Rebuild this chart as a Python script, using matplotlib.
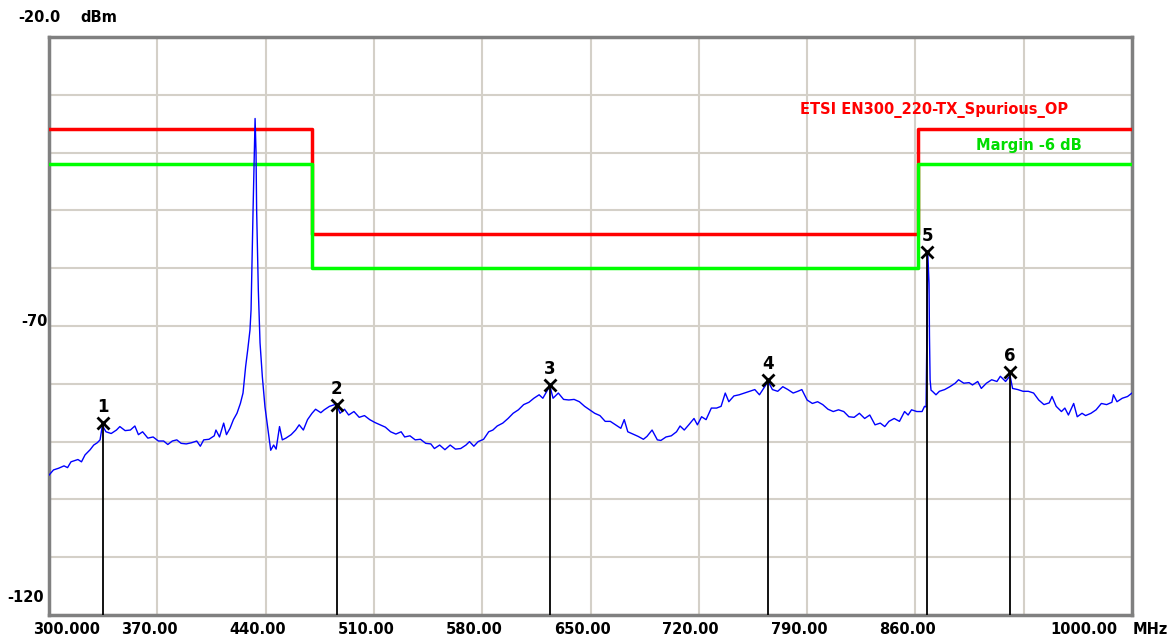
import matplotlib
matplotlib.use("Agg")
import matplotlib.pyplot as plt
import numpy as np

# trace (MHz, dBm)
freq = [300.0, 302.9, 306.3, 309.7, 312.0, 314.2, 318.7, 321.0, 323.3, 326.6,
        328.9, 331.2, 333.0, 334.5, 336.8, 340.2, 343.6, 345.8, 349.2, 352.6,
        355.5, 357.8, 360.5, 363.9, 367.3, 370.7, 374.1, 376.8, 379.7, 382.6,
        385.4, 388.7, 392.1, 395.5, 397.8, 400.0, 403.4, 406.8, 407.9, 410.2,
        412.9, 414.7, 417.0, 419.2, 421.5, 423.7, 425.4, 427.1, 428.5, 429.9,
        430.6, 431.9, 433.2, 433.8, 434.2, 435.3, 436.4, 437.9, 439.6, 441.8,
        443.3, 445.2, 446.8, 449.0, 450.8, 453.1, 456.5, 459.4, 461.7, 464.4,
        467.1, 470.0, 472.3, 475.7, 477.9, 481.3, 484.7, 486.1, 488.1, 491.0,
        493.7, 497.1, 500.5, 503.9, 507.3, 510.7, 514.1, 517.4, 520.8, 524.2,
        527.6, 529.9, 533.3, 536.7, 540.1, 543.5, 546.8, 549.1, 552.5, 555.9,
        559.3, 562.7, 566.1, 569.5, 571.8, 574.6, 577.4, 580.9, 584.2, 586.9,
        589.7, 593.3, 596.7, 600.0, 603.4, 606.8, 610.2, 613.4, 616.8, 619.2,
        622.4, 623.8, 625.8, 629.2, 632.6, 636.0, 639.4, 642.8, 646.2, 649.5,
        652.7, 656.1, 659.5, 662.8, 666.2, 669.6, 671.8, 674.1, 677.5, 680.8,
        684.2, 686.5, 689.8, 693.2, 695.5, 698.8, 702.2, 705.6, 707.9, 710.6,
        713.5, 716.9, 719.1, 721.8, 724.7, 728.1, 731.5, 734.4, 737.1, 739.4,
        742.7, 746.1, 749.5, 752.9, 756.2, 759.2, 761.9, 764.8, 767.6, 771.0,
        774.3, 777.6, 781.0, 784.0, 786.6, 790.0, 793.4, 796.8, 800.1, 803.5,
        806.9, 810.3, 813.7, 817.0, 820.4, 823.8, 827.2, 830.5, 833.9, 837.3,
        840.2, 842.9, 846.3, 849.7, 853.0, 855.3, 857.5, 860.9, 864.3, 865.9,
        866.9, 867.4, 868.0, 868.8, 869.1, 869.5, 870.1, 871.0, 873.3, 875.5,
        878.9, 882.3, 885.7, 887.9, 891.3, 894.7, 896.9, 900.3, 902.6, 905.9,
        909.3, 912.7, 914.9, 918.3, 921.2, 922.8, 926.2, 929.6, 933.0, 936.4,
        939.7, 943.1, 946.5, 948.3, 951.0, 954.4, 956.6, 958.9, 962.3, 964.6,
        967.7, 970.0, 973.5, 976.8, 980.2, 983.6, 987.0, 988.0, 990.3, 993.7,
        997.1, 1000.0]
level = [-95.8, -94.9, -94.6, -94.2, -94.5, -93.5, -93.1, -93.5, -92.3, -91.4,
         -90.6, -90.2, -89.7, -87.2, -88.3, -88.6, -88.0, -87.4, -88.1, -88.0,
         -87.3, -88.8, -88.3, -89.4, -89.2, -89.9, -89.9, -90.5, -89.9, -89.7,
         -90.3, -90.4, -90.2, -89.9, -90.8, -89.7, -89.6, -89.0, -88.0, -89.2,
         -86.8, -88.8, -87.7, -86.2, -85.1, -83.4, -81.6, -77.0, -74.0, -70.7,
         -67.2, -49.9, -34.1, -39.8, -49.9, -63.8, -72.9, -78.8, -84.0, -88.5,
         -91.5, -90.6, -91.3, -87.4, -89.7, -89.4, -88.8, -88.0, -87.1, -88.0,
         -86.2, -85.1, -84.4, -85.0, -84.5, -83.9, -83.6, -83.7, -85.1, -84.4,
         -85.4, -84.8, -85.8, -85.5, -86.2, -86.7, -87.1, -87.5, -88.3, -88.7,
         -88.3, -89.2, -89.0, -89.7, -89.6, -90.3, -90.4, -91.2, -90.6, -91.4,
         -90.6, -91.3, -91.2, -90.6, -90.0, -90.8, -90.0, -89.6, -88.3, -88.0,
         -87.3, -86.8, -86.0, -85.1, -84.5, -83.6, -83.2, -82.5, -81.9, -82.5,
         -81.0, -80.4, -82.5, -81.6, -82.7, -82.8, -82.7, -83.1, -83.9, -84.5,
         -85.1, -85.5, -86.5, -86.5, -87.1, -87.7, -86.2, -88.3, -88.7, -89.1,
         -89.6, -89.1, -88.0, -89.7, -89.8, -89.2, -89.0, -88.3, -87.3, -88.0,
         -87.1, -86.0, -87.1, -85.7, -86.2, -84.2, -84.2, -83.9, -81.6, -83.1,
         -82.1, -81.9, -81.6, -81.3, -81.0, -81.9, -80.8, -79.6, -81.0, -81.3,
         -80.5, -81.0, -81.6, -81.3, -81.0, -82.8, -83.4, -83.1, -83.6, -84.4,
         -84.8, -84.5, -84.8, -85.7, -85.8, -85.1, -86.0, -85.4, -87.1, -86.8,
         -87.4, -86.5, -86.0, -86.5, -84.8, -85.4, -84.5, -84.8, -84.8, -83.9,
         -84.0, -71.2, -57.3, -62.6, -71.8, -79.3, -81.1, -81.3, -81.9, -81.3,
         -81.0, -80.5, -79.9, -79.3, -79.9, -79.8, -80.2, -79.6, -80.8, -79.9,
         -79.3, -79.6, -78.7, -79.6, -78.6, -80.8, -81.0, -81.3, -81.3, -81.6,
         -82.8, -83.6, -83.3, -82.2, -83.9, -84.8, -84.2, -85.4, -83.4, -85.7,
         -85.1, -85.5, -85.1, -84.5, -83.4, -83.6, -83.2, -81.9, -83.1, -82.5,
         -82.2, -81.6]

# limit line and margin
limit_edges = [300, 470, 862, 1000]
limit_levels = [-36, -54, -36, -36]
margin_db = -6

# markers
marker_freq = [334.9, 486.1, 623.8, 764.8, 867.5, 921.2]
marker_level = [-86.8, -83.7, -80.2, -79.3, -57.2, -78.0]

xlab_vals = [300, 370, 440, 510, 580, 650, 720, 790, 860, 1000]
xlab_text = ['300.000', '370.00', '440.00', '510.00', '580.00', '650.00',
             '720.00', '790.00', '860.00', '1000.00']

W, H = 1169, 637
fig = plt.figure(figsize=(W / 100, H / 100), dpi=100)
ax = fig.add_axes([49 / W, 1 - 615 / H, (1132 - 49) / W, (615 - 37) / H])

ax.set_xlim(300, 1000)
ax.set_ylim(-120, -20)
ax.set_xticks(np.arange(300, 1001, 70))
ax.set_yticks(np.arange(-120, -19, 10))
ax.grid(True, color='#d4d0c8', linewidth=1.5)
ax.set_axisbelow(True)
ax.tick_params(length=0, labelbottom=False, labelleft=False)
for s in ax.spines.values():
    s.set_color('#808080')
    s.set_linewidth(2.5)

bold = dict(fontweight='bold', fontsize=10.5, family='DejaVu Sans')

# limit lines
lim_y = limit_levels
mar_y = [v + margin_db for v in limit_levels]
ax.step(limit_edges, lim_y, where='post', color='#ff0000', lw=2.5, zorder=3)
ax.step(limit_edges, mar_y, where='post', color='#00ff00', lw=2.5, zorder=3)

# trace
ax.plot(freq, level, color='#0000ff', lw=1.0, zorder=4)

# markers
for i, (mf, ml) in enumerate(zip(marker_freq, marker_level)):
    ax.plot([mf, mf], [-120, ml], color='black', lw=1.3, zorder=5)
    ax.plot(mf, ml, marker='x', color='black', ms=9, mew=2, zorder=6)
    ax.annotate(str(i + 1), (mf, ml), xytext=(0, 7), textcoords='offset pixels',
                ha='center', va='bottom', zorder=6, fontweight='bold',
                fontsize=12, family='DejaVu Sans')

ax.text(1068 / W, 1 - 110 / H, 'ETSI EN300_220-TX_Spurious_OP', transform=fig.transFigure,
        color='#ff0000', ha='right', va='center', **bold)
ax.text(1082 / W, 1 - 145 / H, 'Margin -6 dB', transform=fig.transFigure,
        color='#00dd00', ha='right', va='center', **bold)

# axis labels
fig.text(18 / W, 1 - 18 / H, '-20.0', ha='left', va='center', **bold)
fig.text(80 / W, 1 - 18 / H, 'dBm', ha='left', va='center', **bold)
fig.text(48 / W, 1 - 322 / H, '-70', ha='right', va='center', **bold)
fig.text(44 / W, 1 - 598 / H, '-120', ha='right', va='center', **bold)

for v, t in zip(xlab_vals, xlab_text):
    if v == xlab_vals[0]:
        ha, dx = 'left', -16
    elif v == xlab_vals[-1]:
        ha, dx = 'right', -15
    else:
        ha, dx = 'center', -8
    ax.annotate(t, (v, 0), xycoords=('data', 'axes fraction'), xytext=(dx, -14),
                textcoords='offset pixels', ha=ha, va='center', **bold)
ax.annotate('MHz', (1000, 0), xycoords=('data', 'axes fraction'), xytext=(1, -14),
            textcoords='offset pixels', ha='left', va='center', **bold)

fig.savefig('out.png', dpi=100)
